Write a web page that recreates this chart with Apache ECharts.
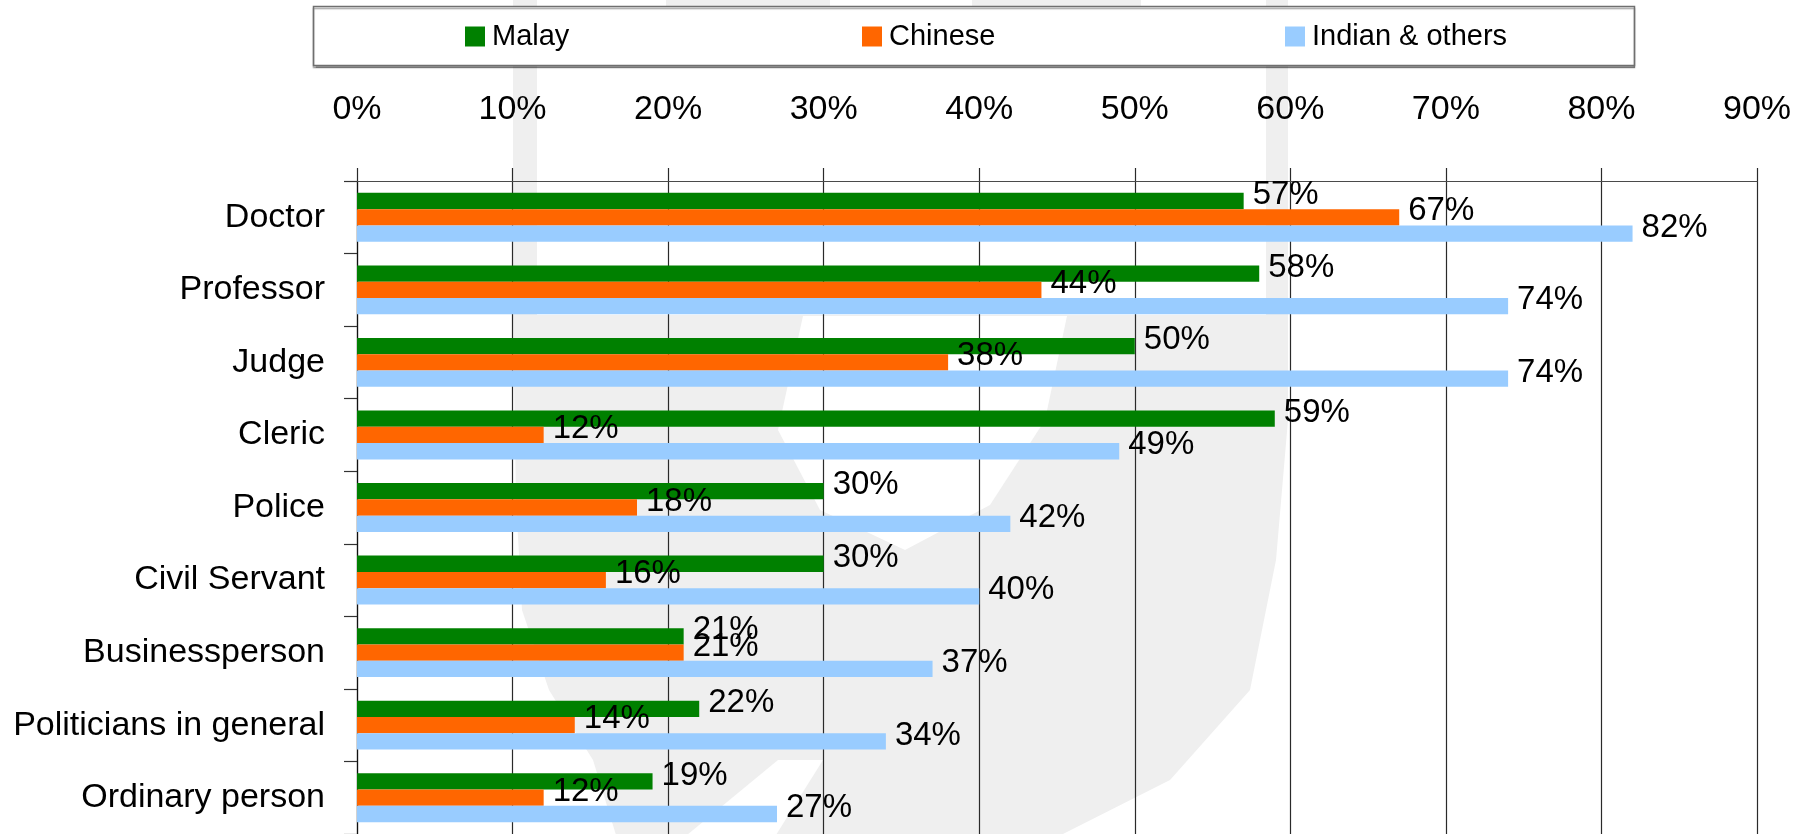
<!DOCTYPE html>
<html>
<head>
<meta charset="utf-8">
<title>Trust by profession and ethnic group</title>
<script src="https://cdn.jsdelivr.net/npm/echarts@6/dist/echarts.min.js"></script>
<style>
  html, body { margin: 0; padding: 0; background: #ffffff; }
  #chart { width: 1805px; height: 834px; }
</style>
</head>
<body>
<div id="chart"></div>
<script>
// Professions, top to bottom
const categories = ['Doctor', 'Professor', 'Judge', 'Cleric', 'Police', 'Civil Servant',
  'Businessperson', 'Politicians in general', 'Ordinary person'];

// Share (%) of each group
const malay   = [57, 58, 50, 59, 30, 30, 21, 22, 19];
const chinese = [67, 44, 38, 12, 18, 16, 21, 14, 12];
const indian  = [82, 74, 74, 49, 42, 40, 37, 34, 27];

const seriesNames = ['Malay', 'Chinese', 'Indian & others'];
const seriesColors = ['#008000', '#FF6600', '#99CCFF'];

// Axis ticks
const axisMin = 0, axisMax = 90, axisStep = 10;

const narrow = '"Liberation Sans Narrow", "Arial Narrow", "Liberation Sans", Arial, sans-serif';
const regular = '"Liberation Sans", Arial, sans-serif';

const chart = echarts.init(document.getElementById('chart'), null, { renderer: 'canvas' });

function barSeries(name, values, color) {
  return {
    name: name,
    type: 'bar',
    data: values,
    barWidth: 16.3,
    barGap: '0%',
    itemStyle: { color: color },
    label: {
      show: true,
      position: 'right',
      distance: 9,
      offset: [0, -6],
      formatter: '{c}%',
      fontFamily: narrow,
      fontSize: 33,
      color: '#000'
    },
    emphasis: { disabled: true },
    animation: false
  };
}

function legendAt(name, left) {
  return {
    data: [name],
    left: left,
    top: 22,
    padding: 0,
    icon: 'rect',
    itemWidth: 20,
    itemHeight: 20,
    selectedMode: false,
    textStyle: { fontFamily: narrow, fontSize: 29, color: '#000', padding: [0, 0, 0, 2] }
  };
}

// faint logo shapes behind the plot
const wm = '#efefef';
const watermark = [
  { type: 'rect', z: -20, shape: { x: 666, y: 0, width: 164, height: 12 }, style: { fill: wm } },
  { type: 'rect', z: -20, shape: { x: 972, y: 0, width: 169, height: 12 }, style: { fill: wm } },
  {
    type: 'polygon', z: -20,
    shape: { points: [
      [513, 0], [537, 0], [537, 315], [803, 315], [1067, 315], [1266, 315], [1266, 0], [1288, 0],
      [1288, 420], [1276, 560], [1250, 690], [1170, 780], [1061, 835], [616, 835], [593, 760],
      [549, 690], [522, 610], [516, 500], [513, 320]
    ] },
    style: { fill: wm }
  },
  {
    type: 'polygon', z: -19,
    shape: { points: [
      [803, 316], [1067, 316], [1045, 420], [990, 505], [905, 550], [820, 510], [778, 430]
    ] },
    style: { fill: '#ffffff' }
  },
  {
    type: 'polygon', z: -19,
    shape: { points: [[778, 760], [823, 760], [776, 835], [687, 835]] },
    style: { fill: '#ffffff' }
  }
];

const legendBox = {
  type: 'rect', z: -5,
  shape: { x: 313.5, y: 6.5, width: 1321, height: 59 },
  style: {
    fill: '#ffffff', stroke: '#6f6f6f', lineWidth: 1.5,
    shadowColor: 'rgba(0,0,0,0.35)', shadowOffsetY: 2, shadowOffsetX: 0, shadowBlur: 1
  }
};

chart.setOption({
  backgroundColor: '#ffffff',
  animation: false,
  graphic: { elements: watermark.concat([legendBox]) },
  legend: [
    legendAt(seriesNames[0], 465),
    legendAt(seriesNames[1], 862),
    legendAt(seriesNames[2], 1285)
  ],
  grid: { left: 357, right: 48, top: 181, bottom: -4, containLabel: false },
  xAxis: {
    type: 'value',
    position: 'top',
    min: axisMin,
    max: axisMax,
    interval: axisStep,
    axisLine: { show: true, lineStyle: { color: '#4a4a4a', width: 1.2 } },
    axisTick: { show: true, length: 13, lineStyle: { color: '#2a2a2a', width: 1.2 } },
    splitLine: { show: true, lineStyle: { color: '#2a2a2a', width: 1.2 } },
    axisLabel: {
      formatter: '{value}%',
      fontFamily: narrow,
      fontSize: 34,
      color: '#000',
      margin: 54
    }
  },
  yAxis: {
    type: 'category',
    inverse: true,
    data: categories,
    axisLine: { show: true, lineStyle: { color: '#111', width: 1.2 } },
    axisTick: { show: true, length: 13, lineStyle: { color: '#333', width: 1.2 } },
    axisLabel: {
      fontFamily: regular,
      fontSize: 34,
      color: '#000',
      margin: 32
    }
  },
  series: [
    barSeries(seriesNames[0], malay, seriesColors[0]),
    barSeries(seriesNames[1], chinese, seriesColors[1]),
    barSeries(seriesNames[2], indian, seriesColors[2])
  ]
});
</script>
</body>
</html>
